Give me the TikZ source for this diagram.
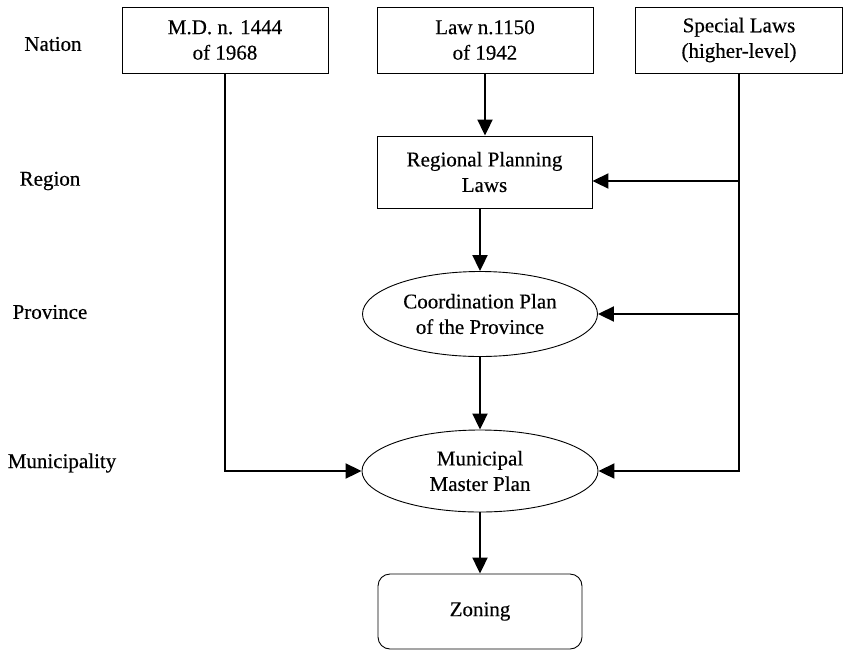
\documentclass[tikz,border=0pt]{standalone}
\usepackage{fontspec}
\setmainfont{Liberation Serif}[FakeBold=0.4]
\usetikzlibrary{shapes.geometric,arrows.meta,calc}
\begin{document}
\begin{tikzpicture}[x=1pt,y=-1pt,
  every node/.style={font=\fontsize{21}{25.5}\selectfont, align=center, inner sep=0pt},
  box/.style={draw, line width=0.9pt, rectangle},
  oval/.style={draw, line width=0.9pt, ellipse},
  conn/.style={line width=2pt, -{Triangle[length=16pt,width=15pt]}}]
\useasboundingbox (0,0) rectangle (845,651);
\node[box, minimum width=206pt, minimum height=66pt] (md) at (225,40) {M.D. n. 1444\\of 1968};
\node[box, minimum width=216pt, minimum height=66pt] (law) at (485,40) {Law n.1150\\of 1942};
\node[box, minimum width=207pt, minimum height=66pt] (sp) at (739,40) {Special Laws\\(higher-level)};
\node[box, minimum width=215pt, minimum height=72pt] (reg) at (484.5,172) {Regional Planning\\Laws};
\node[oval, minimum width=235pt, minimum height=85pt] (coord) at (480,314) {Coordination Plan\\of the Province};
\node[oval, minimum width=236pt, minimum height=82pt] (mun) at (480,471) {Municipal\\Master Plan};
\node[box, rounded corners=12pt, minimum width=204pt, minimum height=75pt] (zon) at (480,611.5) {Zoning};
\node (nation) at (53,44) {Nation};
\node (region) at (50,181) {Region};
\node (province) at (50,312) {Province};
\node (muni) at (62,463) {Municipality};
\draw[conn] (law.south) -- (law.south |- reg.north);
\draw[conn] (reg.south -| coord.north) -- (coord.north);
\draw[conn] (coord.south) -- (mun.north);
\draw[conn] (mun.south) -- (zon.north);
\draw[conn] (md.south) |- (mun.west);
\draw[conn] (sp.south) |- (mun.east);
\coordinate (regin) at ([yshift=-9pt]reg.east);
\draw[conn] (sp.south |- regin) -- (regin);
\draw[conn] (sp.south |- coord.east) -- (coord.east);
\end{tikzpicture}
\end{document}
